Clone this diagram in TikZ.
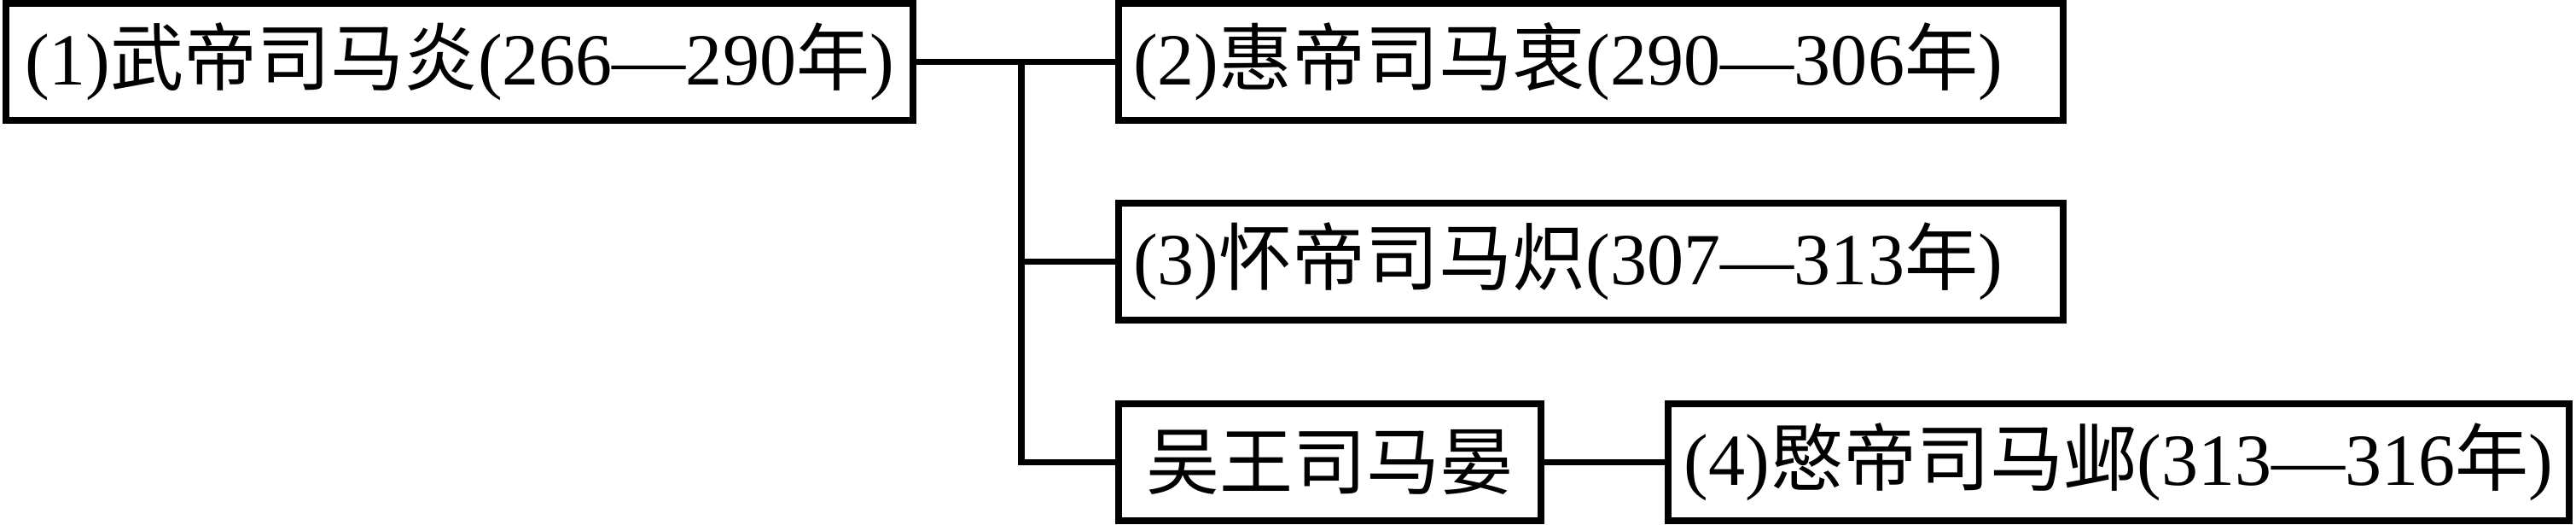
\documentclass[tikz,border=0pt]{standalone}
\usepackage{fontspec}
\setmainfont{Liberation Serif}
\newfontfamily\zhfont{Noto Sans CJK SC}
\newcommand{\zh}[1]{{\zhfont #1}}
\begin{document}
\begin{tikzpicture}[line width=2.2pt,
    emperor/.style={draw, inner sep=0pt, minimum height=1.37cm,
      font=\fontsize{24.5}{29}\selectfont},
    son/.style={emperor, inner xsep=0.17cm, text width=10.73cm, align=left}]
    \useasboundingbox (0,0) rectangle (30.19,-6.14);
    \node [emperor, minimum width=10.63cm] (wu) at (5.385,-0.725) {(1)\zh{武帝司马炎}(266—290\zh{年})};
    \node [son] (hui) at (18.645,-0.725) {(2)\zh{惠帝司马衷}(290—306\zh{年})};
    \node [son] (huai) at (18.645,-3.065) {(3)\zh{怀帝司马炽}(307—313\zh{年})};
    \node [emperor, minimum width=4.95cm] (yan) at (15.585,-5.415) {\zh{吴王司马晏}};
    \node [emperor, minimum width=10.56cm] (min) at (24.83,-5.415) {(4)\zh{愍帝司马邺}(313—316\zh{年})};
    \coordinate (j) at (11.97,-0.725);
    \draw (wu) -- (hui);
    \draw (j) |- (huai);
    \draw (j) |- (yan);
    \draw (yan) -- (min);
  \end{tikzpicture}
\end{document}
